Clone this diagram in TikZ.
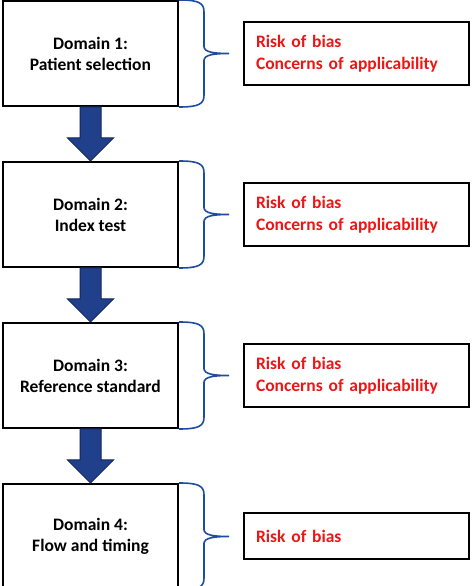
\documentclass[tikz,border=0pt]{standalone}
\usepackage{fontspec}
\setmainfont{Carlito}
\usetikzlibrary{positioning,calc}

\definecolor{arrowblue}{RGB}{33,64,140}
\definecolor{arrowedge}{RGB}{20,38,92}
\definecolor{braceblue}{RGB}{30,76,158}
\definecolor{riskred}{RGB}{236,22,22}

\newcommand\flowarrow[2]{%
  \filldraw[flowarr] ($(#1.south)+(-10.5,0)$) -- ($(#1.south)+(10.5,0)$)
    -- ($(#2.north)+(10.5,23)$) -- ($(#2.north)+(23,23)$) -- (#2.north)
    -- ($(#2.north)+(-23,23)$) -- ($(#2.north)+(-10.5,23)$) -- cycle;}

\newcommand\domainbrace[1]{%
  \draw[brace] (#1.north east) .. controls +(20,0) and +(0,9) .. ($(#1.north east)+(25,-12)$)
    -- ($(#1.east)+(25,7)$) .. controls +(0,-6) and +(-14,0) .. ($(#1.east)+(50,0)$)
    .. controls +(-14,0) and +(0,6) .. ($(#1.east)+(25,-7)$)
    -- ($(#1.south east)+(25,12)$) .. controls +(0,-9) and +(20,0) .. (#1.south east);}

\begin{document}
\begin{tikzpicture}[x=1pt, y=1pt,
    node distance=54pt,
    domainbox/.style={draw, line width=2pt, minimum width=175pt, minimum height=105pt,
                   align=center, font=\fontsize{17.5}{21}\selectfont\bfseries},
    concern/.style={draw, line width=2pt, minimum height=63pt, text width=201pt,
                    inner xsep=12pt, align=left, text=riskred,
                    font=\fontsize{17.5}{22}\selectfont\bfseries},
    flowarr/.style={fill=arrowblue, draw=arrowedge, line width=1pt},
    brace/.style={draw=braceblue, line width=1.6pt}]

\useasboundingbox (0,0) rectangle (472,586);

\node[domainbox] (d1) at (90.5,532.5) {Domain 1:\\Patient selection};
\node[domainbox, below=of d1] (d2) {Domain 2:\\Index test};
\node[domainbox, below=of d2] (d3) {Domain 3:\\Reference standard};
\node[domainbox, below=of d3] (d4) {Domain 4:\\Flow and timing};

\node[concern, right=64pt of d1] (r1) {Risk of bias\\Concerns of applicability};
\node[concern, right=64pt of d2] (r2) {Risk of bias\\Concerns of applicability};
\node[concern, right=64pt of d3] (r3) {Risk of bias\\Concerns of applicability};
\node[concern, right=64pt of d4, minimum height=46pt] (r4) {Risk of bias};

\flowarrow{d1}{d2}
\flowarrow{d2}{d3}
\flowarrow{d3}{d4}

\foreach \d in {d1,d2,d3,d4}
  \domainbrace{\d};

\end{tikzpicture}
\end{document}
